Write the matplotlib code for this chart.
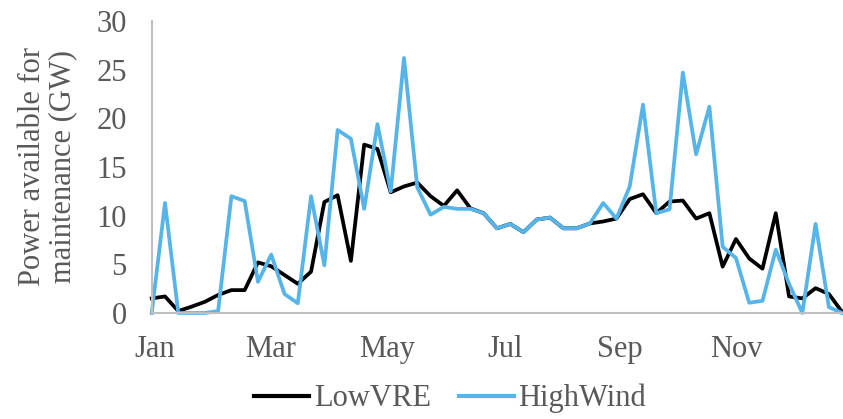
import numpy as np
import matplotlib
matplotlib.use("Agg")
import matplotlib.pyplot as plt

# weekly values (GW), 53 weeks
low_vre = [1.5, 1.7, 0.2, 0.65, 1.15, 1.85, 2.35, 2.35, 5.2, 4.8,
           3.9, 3.0, 4.25, 11.4, 12.1, 5.35, 17.3, 16.85, 12.4, 13.0,
           13.4, 12.0, 11.0, 12.6, 10.75, 10.25, 8.7, 9.15, 8.3, 9.6,
           9.8, 8.7, 8.7, 9.2, 9.4, 9.7, 11.7, 12.2, 10.25, 11.45,
           11.55, 9.7, 10.25, 4.76, 7.6, 5.6, 4.55, 10.25, 1.7, 1.5,
           2.55, 1.95, 0.1]
high_wind = [0.0, 11.3, 0.0, 0.0, 0.0, 0.2, 12.0, 11.5, 3.2, 6.0,
             1.95, 1.0, 12.0, 4.9, 18.8, 17.9, 10.7, 19.4, 12.5, 26.2,
             12.9, 10.1, 10.9, 10.7, 10.7, 10.25, 8.7, 9.15, 8.3, 9.6,
             9.8, 8.7, 8.7, 9.2, 11.3, 9.7, 13.0, 21.4, 10.25, 10.65,
             24.7, 16.3, 21.2, 6.8, 5.65, 1.05, 1.25, 6.5, 3.0, 0.0,
             9.15, 0.6, 0.0]
month_labels = ["Jan", "Mar", "May", "Jul", "Sep", "Nov"]
month_pos = [0.25, 8.98, 17.72, 26.6, 35.26, 44.07]  # in weeks

weeks = np.arange(len(low_vre))
grey = "#595959"
fs = 22

plt.rcParams["font.family"] = ["Liberation Serif", "DejaVu Serif"]

fig = plt.figure(figsize=(8.43, 4.19), dpi=100)
ax = fig.add_axes([0.180, 0.253, 0.819, 0.697])

ax.plot(weeks, low_vre, color="black", lw=2.7, label="LowVRE", clip_on=False)
ax.plot(weeks, high_wind, color="#56B4E9", lw=2.7, label="HighWind", clip_on=False)

ax.set_xlim(0, len(weeks) - 1)
ax.set_ylim(0, 30)
ax.set_yticks(range(0, 31, 5))
ax.set_xticks(month_pos)
ax.set_xticklabels(month_labels)
ax.tick_params(length=0, labelsize=fs, colors=grey)
ax.tick_params(axis="y", pad=18)
ax.tick_params(axis="x", pad=16)

for s in ["top", "right"]:
    ax.spines[s].set_visible(False)
for s in ["left", "bottom"]:
    ax.spines[s].set_color("#BFBFBF")
    ax.spines[s].set_linewidth(1.5)

ax.set_ylabel("Power available for\nmaintenance (GW)", fontsize=fs, color=grey,
              linespacing=1.05, labelpad=14)

leg = fig.legend(loc="lower center", bbox_to_anchor=(0.534, -0.052), ncol=2,
                 frameon=False, fontsize=fs, handlelength=1.8, handletextpad=0.15,
                 columnspacing=0.9)
for t in leg.get_texts():
    t.set_color(grey)
for h in leg.get_lines():
    h.set_linewidth(3)

fig.savefig("out.png", dpi=100)
